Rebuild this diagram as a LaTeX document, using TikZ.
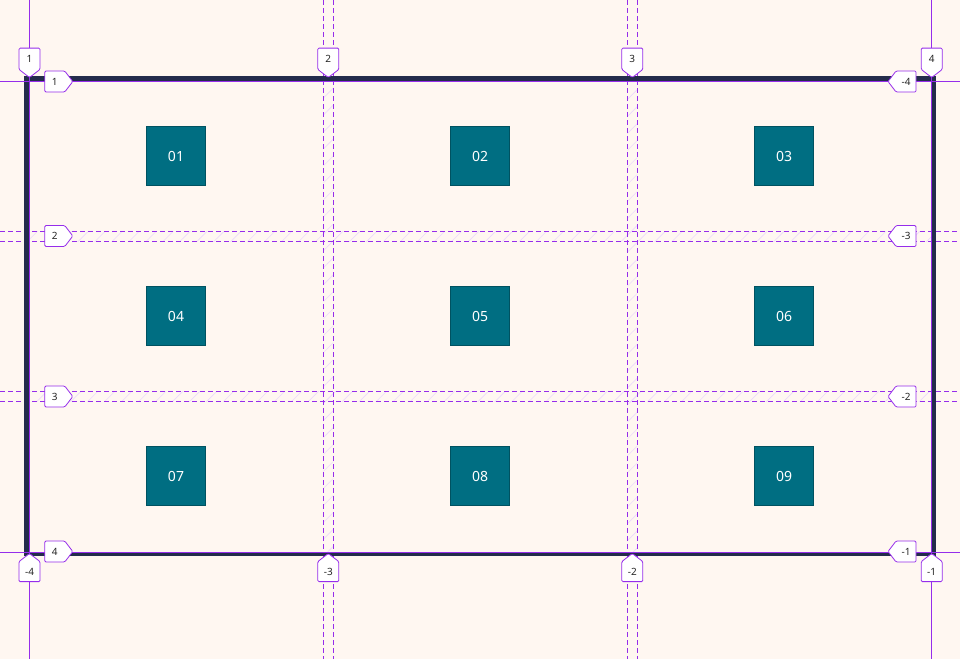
\documentclass[tikz,border=0pt]{standalone}
\usepackage{fontspec}
\setmainfont{Noto Sans}
\usetikzlibrary{shapes.symbols,patterns.meta}
\definecolor{paper}{RGB}{255,247,241}
\definecolor{wall}{RGB}{36,44,76}
\definecolor{gridline}{RGB}{150,45,235}
\definecolor{column}{RGB}{0,110,130}

\begin{document}
\begin{tikzpicture}[x=1pt,y=1pt,
  tag/.style={signal, draw=gridline, fill=white, line width=0.8pt, rounded corners=1.2pt,
    inner sep=0pt, text=black!85, font=\fontsize{10}{11}\selectfont},
  vtag/.style={tag, minimum width=21pt, minimum height=23.5pt, signal pointer angle=105},
  htag/.style={tag, minimum width=28pt, minimum height=21pt, signal pointer angle=105},
  col/.style={draw=column!75!black, fill=column, minimum size=59pt, inner sep=0pt,
    text=white, font=\fontsize{14}{16}\selectfont},
  solidaxis/.style={gridline, line width=0.7pt},
  dashaxis/.style={gridline, line width=0.7pt, dash pattern=on 5pt off 3pt},
  band/.style={pattern={Lines[angle=45,distance=12pt,line width=0.6pt]}, pattern color=gridline!18}]
\fill [paper] (0,0) rectangle (960,-659);
\useasboundingbox (0,0) rectangle (960,-659);
% hatch between the double lines
\fill [band] (323.3,-81) rectangle (333.3,-552.5);
\fill [band] (627.3,-81) rectangle (637.3,-552.5);
\fill [band] (29,-231) rectangle (931.7,-241.5);
\fill [band] (29,-391.5) rectangle (931.7,-401.5);
% dashed axes
\coordinate (v2an) at (323.3,0); \coordinate (v2as) at (323.3,-659);
\coordinate (v2bn) at (333.3,0); \coordinate (v2bs) at (333.3,-659);
\coordinate (v3an) at (627.3,0); \coordinate (v3as) at (627.3,-659);
\coordinate (v3bn) at (637.3,0); \coordinate (v3bs) at (637.3,-659);
\coordinate (h2aw) at (0,-231); \coordinate (h2ae) at (960,-231);
\coordinate (h2bw) at (0,-241.5); \coordinate (h2be) at (960,-241.5);
\coordinate (h3aw) at (0,-391.5); \coordinate (h3ae) at (960,-391.5);
\coordinate (h3bw) at (0,-401.5); \coordinate (h3be) at (960,-401.5);
\draw [dashaxis] (v2an) -- (v2as);
\draw [dashaxis] (v2bn) -- (v2bs);
\draw [dashaxis] (v3an) -- (v3as);
\draw [dashaxis] (v3bn) -- (v3bs);
\draw [dashaxis] (h2aw) -- (h2ae);
\draw [dashaxis] (h2bw) -- (h2be);
\draw [dashaxis] (h3aw) -- (h3ae);
\draw [dashaxis] (h3bw) -- (h3be);
% outer wall
\draw [wall, line width=4.6pt] (26.6,-78.6) rectangle (933.6,-554);
% solid axes
\coordinate (v1n) at (29.2,0); \coordinate (v1s) at (29.2,-659);
\coordinate (v4n) at (931.4,0); \coordinate (v4s) at (931.4,-659);
\coordinate (h1w) at (0,-81); \coordinate (h1e) at (960,-81);
\coordinate (h4w) at (0,-552.5); \coordinate (h4e) at (960,-552.5);
\draw [solidaxis] (v1n) -- (v1s);
\draw [solidaxis] (v4n) -- (v4s);
\draw [solidaxis] (h1w) -- (h1e);
\draw [solidaxis] (h4w) -- (h4e);
% columns
\node [col] (c01) at (176,-156) {01};
\node [col] (c02) at (480,-156) {02};
\node [col] (c03) at (784,-156) {03};
\node [col] (c04) at (176,-316) {04};
\node [col] (c05) at (480,-316) {05};
\node [col] (c06) at (784,-316) {06};
\node [col] (c07) at (176,-476) {07};
\node [col] (c08) at (480,-476) {08};
\node [col] (c09) at (784,-476) {09};
% axis tags, top and bottom
\node [vtag, signal to=south, anchor=south] (t1) at (29.5,-78) {1};
\node [vtag, signal to=south, anchor=south] (t2) at (328.3,-78) {2};
\node [vtag, signal to=south, anchor=south] (t3) at (632.3,-78) {3};
\node [vtag, signal to=south, anchor=south] (t4) at (931.7,-78) {4};
\node [vtag, signal to=north, anchor=north] (b1) at (29.5,-553) {-4};
\node [vtag, signal to=north, anchor=north] (b2) at (328.3,-553) {-3};
\node [vtag, signal to=north, anchor=north] (b3) at (632.3,-553) {-2};
\node [vtag, signal to=north, anchor=north] (b4) at (931.7,-553) {-1};
% axis tags, left and right
\node [htag, signal to=east, anchor=east] (l1) at (73.3,-81.5) {1};
\node [htag, signal to=east, anchor=east] (l2) at (73.3,-236) {2};
\node [htag, signal to=east, anchor=east] (l3) at (73.3,-396.5) {3};
\node [htag, signal to=east, anchor=east] (l4) at (73.3,-551.5) {4};
\node [htag, signal to=west, anchor=west] (r1) at (887.5,-81.5) {-4};
\node [htag, signal to=west, anchor=west] (r2) at (887.5,-236) {-3};
\node [htag, signal to=west, anchor=west] (r3) at (887.5,-396.5) {-2};
\node [htag, signal to=west, anchor=west] (r4) at (887.5,-551.5) {-1};
\end{tikzpicture}
\end{document}
